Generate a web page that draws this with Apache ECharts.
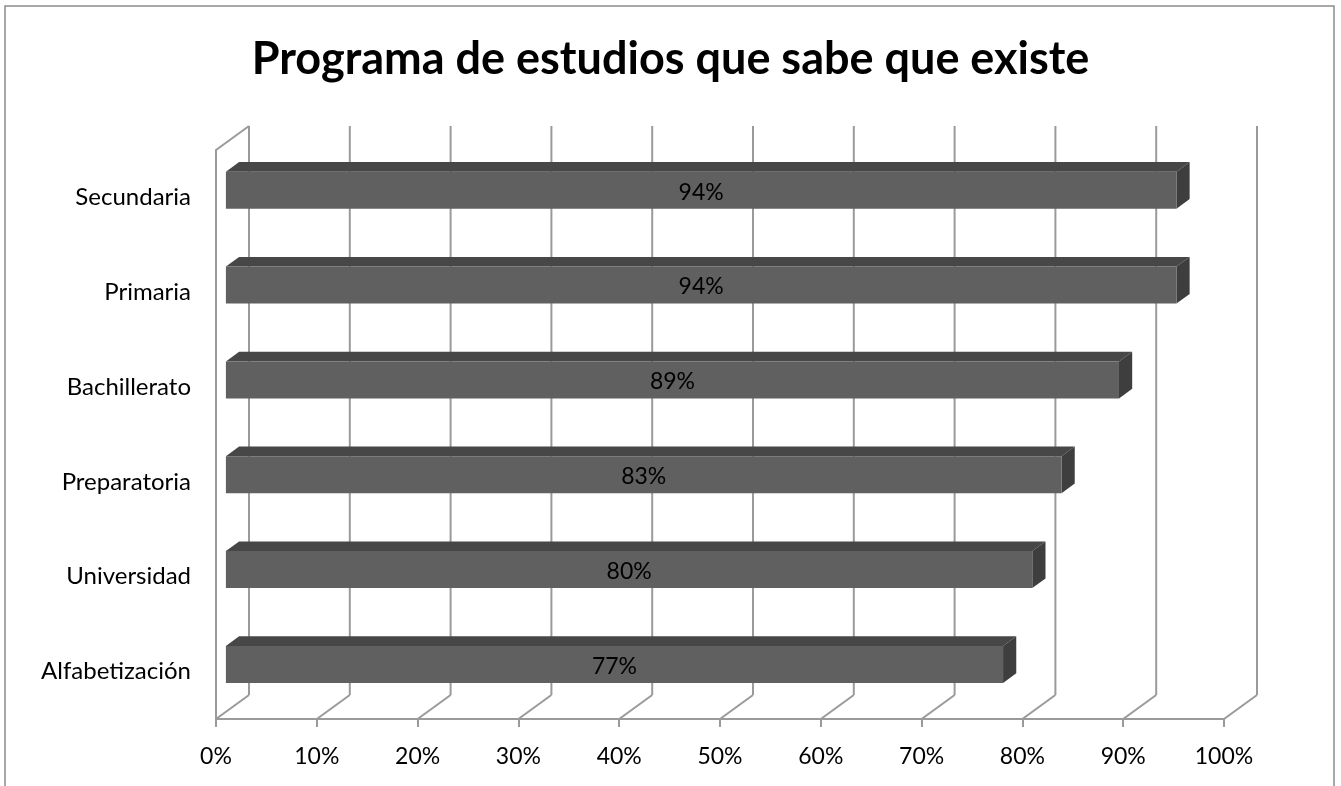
<!DOCTYPE html>
<html>
<head>
<meta charset="utf-8">
<script src="https://cdn.jsdelivr.net/npm/echarts@6/dist/echarts.min.js"></script>
<style>
html,body{margin:0;padding:0;background:#fff;}
#chart{width:1341px;height:786px;}
</style>
</head>
<body>
<div id="chart"></div>
<script>
const titleText = 'Programa de estudios que sabe que existe';
const categories = ['Secundaria', 'Primaria', 'Bachillerato', 'Preparatoria', 'Universidad', 'Alfabetización'];
const values = [94.3, 94.3, 88.6, 82.9, 80.0, 77.1];
const ticks = [0, 10, 20, 30, 40, 50, 60, 70, 80, 90, 100];

const FONT = 'Lato, "Open Sans", sans-serif';
const DX = 33, DY = -24;          // depth offset of the 3D walls
const GRID_COLOR = '#9a9a9a';

const chart = echarts.init(document.getElementById('chart'));

const barData = values.map((v, i) => [v, i]);
const tickData = ticks.map(t => [t, 0]);

chart.setOption({
  animation: false,
  backgroundColor: '#ffffff',
  title: {
    text: titleText,
    left: 'center',
    top: 32,
    textStyle: { fontFamily: FONT, fontWeight: 'bold', fontSize: 45, color: '#000' }
  },
  graphic: [{
    type: 'polyline',
    shape: { points: [[5, 786], [5, 6], [1334, 6], [1334, 786]] },
    style: { stroke: '#8c8c8c', lineWidth: 1.5, fill: null },
    silent: true
  }],
  grid: { left: 216, right: 117, top: 150, bottom: 67 },
  xAxis: {
    type: 'value', min: 0, max: 100, interval: 10,
    axisLine: { show: true, lineStyle: { color: GRID_COLOR, width: 2 } },
    axisTick: { show: true, length: 8, lineStyle: { color: GRID_COLOR, width: 2 } },
    splitLine: { show: false },
    axisLabel: { formatter: '{value}%', color: '#000', fontFamily: FONT, fontSize: 23, margin: 26 }
  },
  yAxis: {
    type: 'category', data: categories, inverse: true,
    axisLine: { show: true, lineStyle: { color: GRID_COLOR, width: 2 } },
    axisTick: { show: false },
    splitLine: { show: false },
    axisLabel: { color: '#000', fontFamily: FONT, fontSize: 24, margin: 25 }
  },
  series: [
    {
      type: 'custom',
      name: 'walls',
      coordinateSystem: 'cartesian2d',
      clip: false,
      z: 1,
      silent: true,
      data: tickData,
      encode: { x: 0, y: 1 },
      renderItem: function (params, api) {
        const cs = params.coordSys;
        const X = api.coord([api.value(0), 0])[0];
        const top = cs.y, bottom = cs.y + cs.height;
        const ls = { stroke: GRID_COLOR, lineWidth: 2 };
        const children = [
          { type: 'line', shape: { x1: X + DX, y1: top + DY, x2: X + DX, y2: bottom + DY }, style: ls },
          { type: 'line', shape: { x1: X, y1: bottom, x2: X + DX, y2: bottom + DY }, style: ls }
        ];
        if (api.value(0) === 0) {
          children.push({ type: 'line', shape: { x1: X, y1: top, x2: X + DX, y2: top + DY }, style: ls });
        }
        return { type: 'group', children: children };
      }
    },
    {
      type: 'custom',
      name: 'bars',
      coordinateSystem: 'cartesian2d',
      clip: false,
      z: 2,
      data: barData,
      encode: { x: 0, y: 1 },
      renderItem: function (params, api) {
        const v = api.value(0), c = api.value(1);
        const p0 = api.coord([0, c]);
        const p1 = api.coord([v, c]);
        const band = api.size([0, 1])[1];
        const h = band * 0.39;
        const fx = 0.3 * DX, fy = 0.3 * DY;
        const ddx = 0.4 * DX, ddy = 0.4 * DY;
        const x0 = p0[0] + fx, x1 = p1[0] + fx;
        const yc = p0[1] + fy;
        const t = yc - h / 2, b = yc + h / 2;
        return {
          type: 'group',
          children: [
            { type: 'polygon', shape: { points: [[x0, t], [x1, t], [x1 + ddx, t + ddy], [x0 + ddx, t + ddy]] },
              style: { fill: '#474747' } },
            { type: 'polygon', shape: { points: [[x1, t], [x1 + ddx, t + ddy], [x1 + ddx, b + ddy], [x1, b]] },
              style: { fill: '#3e3e3e' } },
            { type: 'rect', shape: { x: x0, y: t, width: x1 - x0, height: b - t },
              style: { fill: '#606060' } },
            { type: 'text', x: (x0 + x1) / 2, y: yc + 2,
              style: { text: Math.round(v) + '%', fill: '#000', font: '23px ' + FONT,
                       align: 'center', verticalAlign: 'middle' } }
          ]
        };
      }
    }
  ]
});
</script>
</body>
</html>
